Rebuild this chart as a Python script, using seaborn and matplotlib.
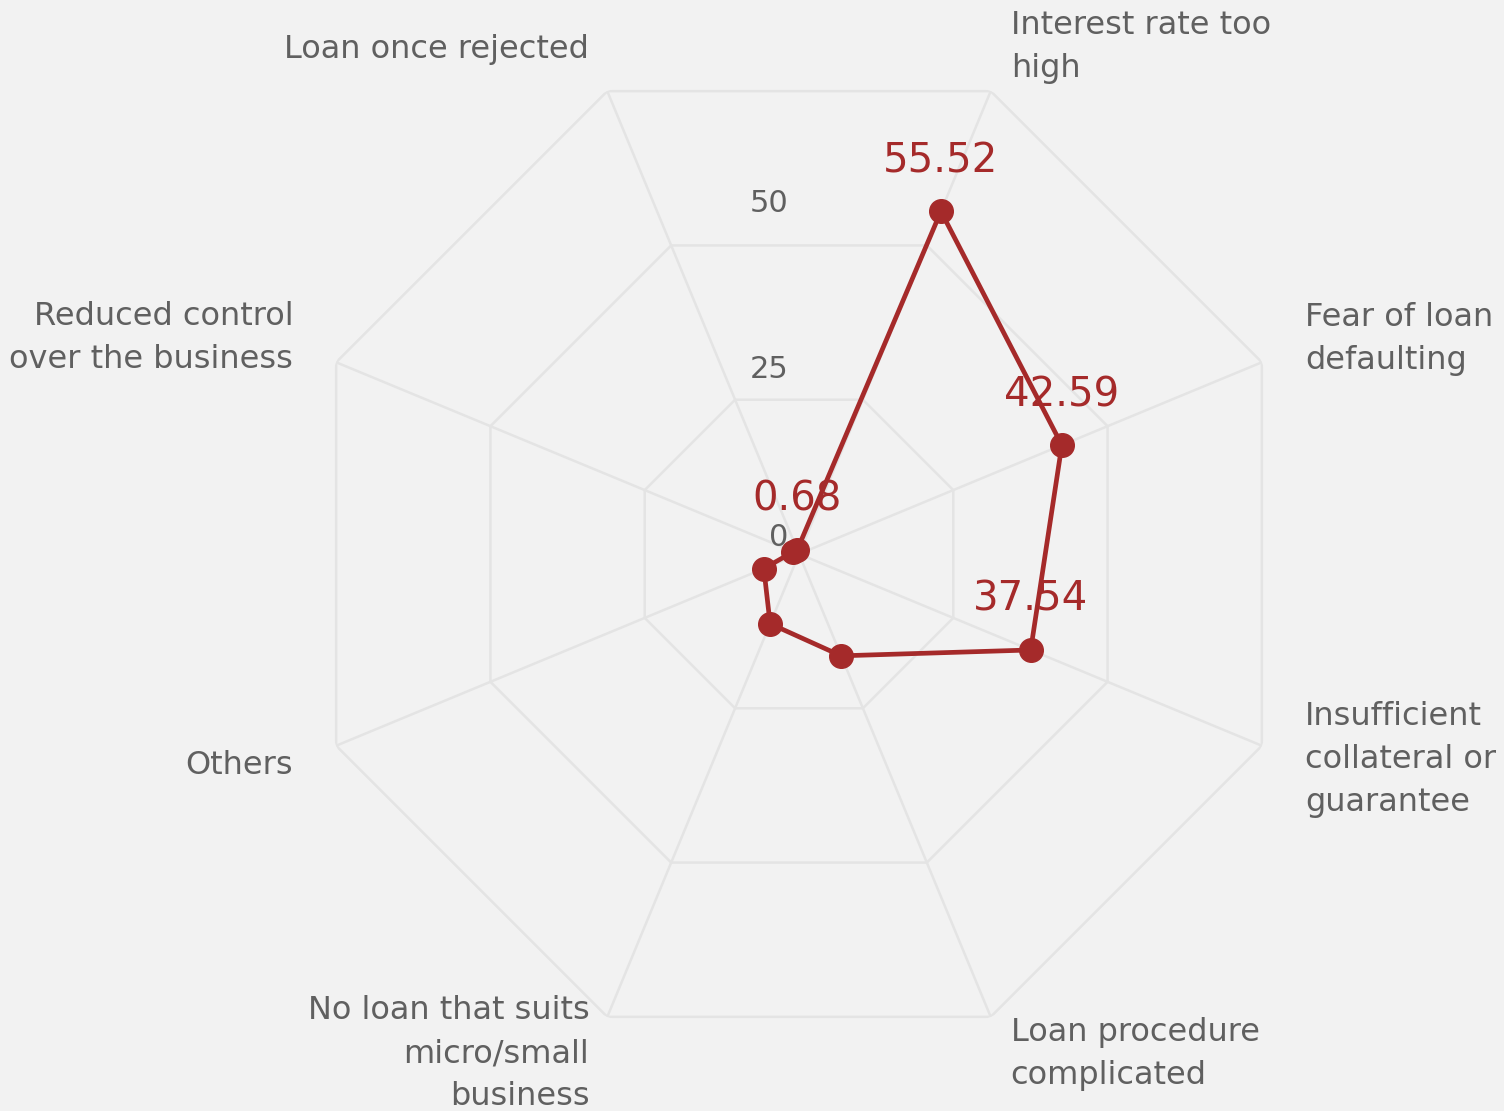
import numpy as np
import matplotlib
matplotlib.use("Agg")
import matplotlib.pyplot as plt
import seaborn as sns

# data
categories = ["Interest rate too\nhigh", "Fear of loan\ndefaulting",
              "Insufficient\ncollateral or\nguarantee", "Loan procedure\ncomplicated",
              "No loan that suits\nmicro/small\nbusiness", "Others",
              "Reduced control\nover the business", "Loan once rejected"]
values = [55.52, 42.59, 37.54, 16.5, 11.3, 5.7, 0.9, 0.68]
show_label = [True, True, True, False, False, False, False, True]
grid_levels = [25, 50, 75]
tick_values = [0, 25, 50]

BG = "#f2f2f2"
GRID = "#e4e4e4"
RED = "#a52a2a"
TXT = "#606060"

sns.set_theme(style="white")
plt.rcParams['font.family'] = ['DejaVu Sans']

fig = plt.figure(figsize=(15.04, 11.11), dpi=100, facecolor=BG)
cx, cy, rad = 799 / 1504, 1 - 554 / 1111, 501
ax = fig.add_axes([cx - rad / 1504, cy - rad / 1111, 2 * rad / 1504, 2 * rad / 1111],
                  projection="polar", facecolor=BG)
ax.set_theta_zero_location("N")
ax.set_theta_direction(-1)
ax.set_ylim(0, 75)
ax.grid(False)
ax.spines["polar"].set_visible(False)
ax.set_xticks([])
ax.set_yticks([])

n = len(categories)
theta = np.deg2rad(22.5 + 45 * np.arange(n))
theta_closed = np.append(theta, theta[0])

# octagon grid and spokes
for lv in grid_levels:
    ax.plot(theta_closed, [lv] * (n + 1), color=GRID, lw=1.8, zorder=1)
for t in theta:
    ax.plot([t, t], [0, 75], color=GRID, lw=1.8, zorder=1)

# series
vals_closed = values + values[:1]
ax.plot(theta_closed, vals_closed, color=RED, lw=3.4, zorder=3)
ax.plot(theta, values, "o", color=RED, ms=17, zorder=4)

for t, v, s in zip(theta, values, show_label):
    if s:
        ax.annotate(f"{v:.2f}", (t, v), xytext=(0, 50), textcoords="offset pixels",
                    ha="center", va="center", color=RED, fontsize=29, zorder=5)

# radial tick labels
for tv in tick_values:
    ax.annotate(str(tv), (0, tv), xytext=(-11, 17), textcoords="offset pixels",
                ha="right", va="center", color=TXT, fontsize=22, zorder=2)

# category labels (offsets from the outer vertex, in pixels)
label_offsets = [(20, -44), (43, -23), (43, 14), (20, 37),
                 (-18, 37), (-43, 20), (-43, -24), (-18, -42)]
for t, lab, (dx, dy) in zip(theta, categories, label_offsets):
    ha = "left" if dx > 0 else "right"
    ax.annotate(lab, (t, 75), xytext=(dx, -dy), textcoords="offset pixels",
                ha=ha, va="center", multialignment=ha, color=TXT,
                fontsize=23, linespacing=1.5, annotation_clip=False)

fig.savefig("out.png", dpi=100, facecolor=BG)
